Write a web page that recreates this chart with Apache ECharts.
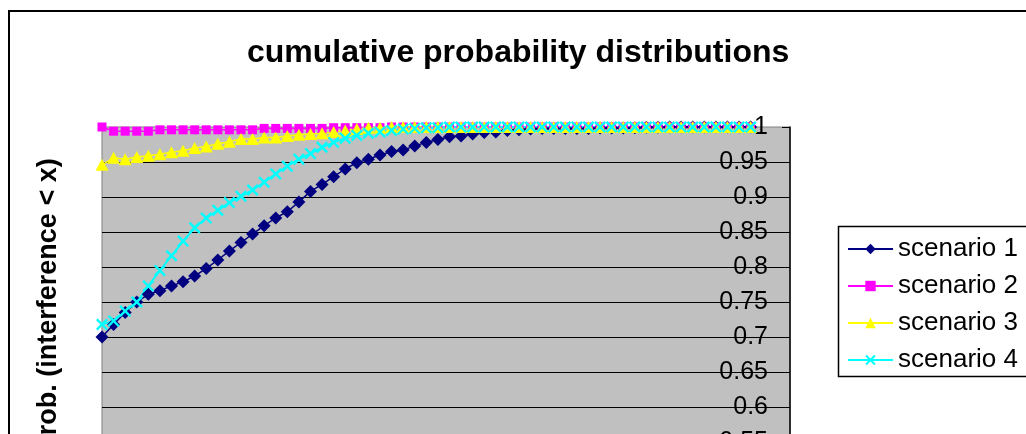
<!DOCTYPE html>
<html><head><meta charset="utf-8">
<script src="https://cdn.jsdelivr.net/npm/echarts@6/dist/echarts.min.js"></script>
<style>html,body{margin:0;padding:0;background:#fff;overflow:hidden}#c{width:1026px;height:520px}</style>
</head><body><div id="c"></div>
<script>
const titleText = 'cumulative probability distributions';
const yAxisTitle = 'prob. (interference < x)';
const seriesNames = ['scenario 1', 'scenario 2', 'scenario 3', 'scenario 4'];
const yMin = 0.5, yMax = 1, yStep = 0.05;

const scenario1 = [0.700,0.718,0.735,0.750,0.761,0.766,0.773,0.779,0.787,0.798,
  0.810,0.823,0.835,0.847,0.859,0.870,0.879,0.893,0.908,0.918,
  0.929,0.940,0.949,0.954,0.960,0.965,0.967,0.973,0.978,0.982,
  0.986,0.987,0.990,0.992,0.993,0.995,0.996,0.997,0.998,0.998,
  0.998,0.998,0.998,0.9985,0.9985,0.9985,0.999,0.9995,0.9995,1,
  1,1,1,1,1,1,1];
const scenario2 = [1.000,0.994,0.994,0.994,0.994,0.996,0.996,0.996,0.996,0.996,
  0.996,0.996,0.996,0.996,0.998,0.998,0.998,0.998,0.998,0.998,
  0.999,0.999,0.999,0.999,0.999,1,1,1,1,1,
  1,1,1,1,1,1,1,1,1,1,
  1,1,1,1,1,1,1,1,1,1,
  1,1,1,1,1,1,1];
const scenario3 = [0.946,0.956,0.954,0.957,0.959,0.961,0.964,0.966,0.970,0.972,
  0.976,0.979,0.983,0.983,0.985,0.985,0.987,0.989,0.990,0.991,
  0.993,0.995,0.997,0.999,0.999,1,1,1,1,1,
  1,1,1,1,1,1,1,1,1,1,
  1,1,1,1,1,1,1,1,1,1,
  1,1,1,1,1,1,1];
const scenario4 = [0.718,0.723,0.737,0.750,0.773,0.795,0.816,0.837,0.856,0.870,
  0.881,0.892,0.901,0.910,0.921,0.933,0.944,0.954,0.962,0.971,
  0.978,0.984,0.988,0.991,0.993,0.995,0.997,0.998,0.999,0.999,
  1,1,1,1,1,1,1,1,1,1,
  1,1,1,1,1,1,1,1,1,1,
  1,1,1,1,1,1,1];

const FONT = 'Liberation Sans, Arial, sans-serif';
const toXY = arr => arr.map((v, i) => [i, v]);
const crossPath = 'path://M0,1.4L1.4,0L5,3.6L8.6,0L10,1.4L6.4,5L10,8.6L8.6,10L5,6.4L1.4,10L0,8.6L3.6,5Z';

const chart = echarts.init(document.getElementById('c'));
chart.setOption({
  animation: false,
  backgroundColor: '#fff',
  title: {
    text: titleText, left: 247, top: 37, padding: 0,
    textStyle: { fontSize: 32, fontWeight: 'bold', fontFamily: FONT, color: '#000' }
  },
  legend: {
    orient: 'vertical', left: 847, top: 236, padding: 0,
    itemWidth: 45, itemHeight: 13, itemGap: 11, selectedMode: false,
    textStyle: { fontSize: 26, lineHeight: 26, fontFamily: FONT, color: '#000' },
    data: seriesNames
  },
  grid: {
    left: 102, right: 236, top: 127, bottom: 43, show: true,
    backgroundColor: '#C0C0C0', borderColor: '#808080', borderWidth: 1
  },
  xAxis: {
    type: 'value', min: 0, max: 59.4,
    axisLine: { show: true, onZero: false, lineStyle: { color: '#000' } },
    axisTick: { show: false }, axisLabel: { show: false }, splitLine: { show: false }
  },
  yAxis: {
    type: 'value', position: 'right', min: yMin, max: yMax, interval: yStep,
    axisLine: { show: true, onZero: false, lineStyle: { color: '#000', width: 1.5 } },
    axisTick: { show: true, inside: true, length: 8, lineStyle: { color: '#000', width: 1 } },
    axisLabel: { inside: true, margin: 22, fontSize: 25, color: '#000', fontFamily: FONT },
    splitLine: { show: true, showMaxLine: false, lineStyle: { color: '#000', width: 1.2 } }
  },
  graphic: [
    { type: 'rect', silent: true, shape: { x: 9, y: 11, width: 1200, height: 1000 },
      style: { fill: 'none', stroke: '#000', lineWidth: 2 } },
    { type: 'rect', silent: true, shape: { x: 838.5, y: 226.5, width: 400, height: 150 },
      style: { fill: 'none', stroke: '#000', lineWidth: 1.5 } },
    { type: 'text', silent: true, x: 49, y: 305, rotation: Math.PI / 2,
      style: { text: yAxisTitle, font: 'bold 27px ' + FONT, fill: '#000', align: 'center', verticalAlign: 'middle' } }
  ],
  series: [
    { name: seriesNames[0], type: 'line', data: toXY(scenario1), symbol: 'diamond', symbolSize: [13, 13],
      showAllSymbol: true, clip: false, color: '#000080', lineStyle: { width: 1.5 } },
    { name: seriesNames[1], type: 'line', data: toXY(scenario2), symbol: 'rect', symbolSize: 9,
      showAllSymbol: true, clip: false, color: '#FF00FF', lineStyle: { width: 1.5 } },
    { name: seriesNames[2], type: 'line', data: toXY(scenario3), symbol: 'triangle', symbolSize: [13, 12],
      showAllSymbol: true, clip: false, color: '#FFFF00', lineStyle: { width: 1.5 } },
    { name: seriesNames[3], type: 'line', data: toXY(scenario4), symbol: crossPath, symbolSize: 12,
      showAllSymbol: true, clip: false, color: '#00FFFF', lineStyle: { width: 2 } }
  ]
});
</script></body></html>
